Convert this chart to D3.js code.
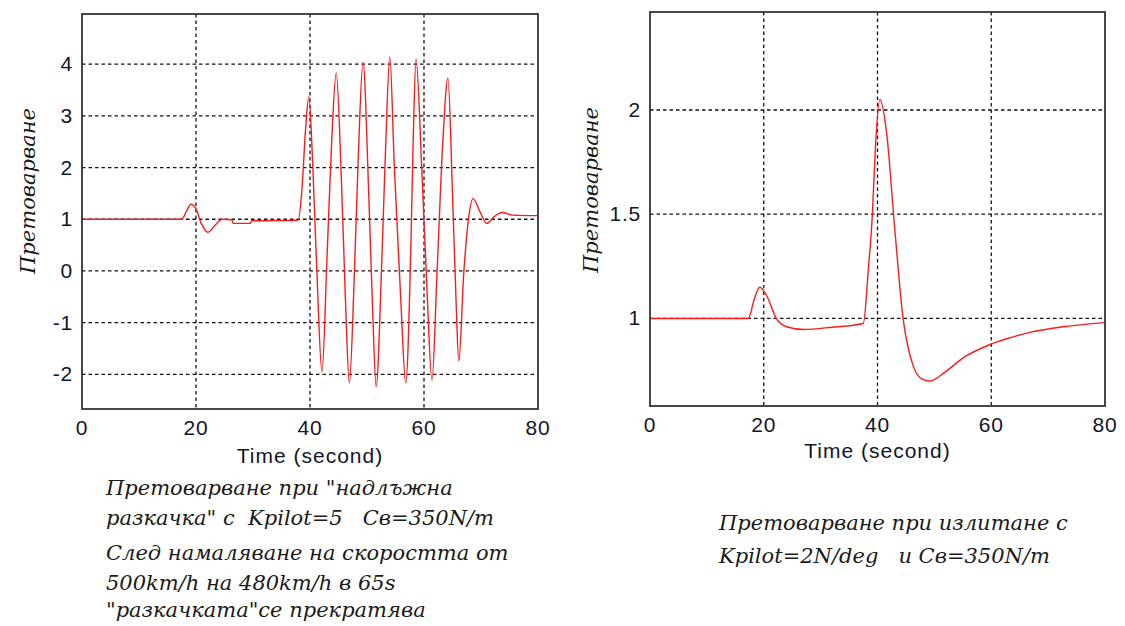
<!DOCTYPE html>
<html>
<head>
<meta charset="utf-8">
<script src="https://cdn.jsdelivr.net/npm/d3@7"></script>
<style>
  body { margin: 0; background: #fff; }
  svg { display: block; }
  .tick-label { font-family: "Liberation Sans", Arial, sans-serif; font-size: 21px; letter-spacing: 0.8px; fill: #14142a; }
  .axis-title { font-family: "Liberation Sans", Arial, sans-serif; font-size: 21px; letter-spacing: 1px; fill: #14142a; }
  .y-title { font-family: "DejaVu Serif", "Liberation Serif", serif; font-style: italic; font-size: 21px; fill: #1a1a1a; }
  .caption { font-family: "DejaVu Serif", "Liberation Serif", serif; font-style: italic; font-size: 21px; fill: #1a1a1a; }
</style>
</head>
<body>
<svg id="chart" width="1125" height="626"></svg>
<script>
// left panel: "надлъжна разкачка"
const leftTime = [0, 17.5, 18.3, 19.1, 20.0, 21.0, 22.1, 23.3, 24.6, 26.3, 26.5, 29.5, 29.8, 37.9,
  38.6, 39.2, 39.8, 40.5, 41.2, 42.1, 43.0, 43.8, 44.6, 45.5, 46.2, 46.9, 47.8, 48.5, 49.3,
  50.3, 51.0, 51.6, 52.6, 53.3, 54.0, 54.8, 55.9, 56.8, 57.7, 58.1, 58.6, 59.6, 60.5, 61.4,
  62.3, 63.3, 64.2, 65.0, 65.6, 66.1, 67.0, 67.8, 68.6, 69.8, 71.0, 72.3, 73.7, 75.5, 80];
const leftLoad = [1, 1, 1.15, 1.29, 1.2, 0.9, 0.75, 0.88, 1.0, 0.99, 0.92, 0.92, 0.97, 0.98,
  1.6, 2.7, 3.37, 2.0, 0.0, -1.95, 0.3, 2.5, 3.83, 1.8, -0.5, -2.17, 0.0, 2.3, 4.04,
  1.5, -0.8, -2.24, 0.2, 2.5, 4.14, 2.0, -0.5, -2.17, 0.5, 2.5, 4.1, 2.0, -0.3, -2.11,
  0.0, 2.5, 3.73, 1.5, -0.5, -1.74, 0.0, 1.0, 1.4, 1.15, 0.92, 1.05, 1.13, 1.08, 1.07];

// right panel: излитане
const rightTime = [0, 17.3, 18.3, 19.3, 20.5, 22.2, 24.0, 27.0, 32.0, 37.5, 38.4, 39.1, 39.6, 40.4,
  41.6, 43.0, 44.5, 46.3, 47.8, 49.2, 52.0, 55.0, 59.8, 63.0, 66.8, 72.6, 80];
const rightLoad = [1, 1, 1.09, 1.15, 1.11, 1.0, 0.96, 0.947, 0.958, 0.976, 1.24, 1.5, 1.8, 2.05,
  1.89, 1.44, 1.0, 0.77, 0.71, 0.70, 0.745, 0.81, 0.875, 0.905, 0.933, 0.96, 0.98];

const xTicks = [0, 20, 40, 60, 80];
const leftYTicks = [-2, -1, 0, 1, 2, 3, 4];
const rightYTicks = [1, 1.5, 2];
const leftYDomain = [-2.67, 4.97];
const rightYDomain = [0.58, 2.47];

const yTitle = 'Претоварване';
const xTitle = 'Time (second)';
const leftCaption = [
  'Претоварване при "надлъжна',
  'разкачка" с  Kpilot=5   Св=350N/m',
  'След намаляване на скоростта от',
  '500km/h на 480km/h в 65s',
  '"разкачката"се прекратява'
];
const leftCaptionY = [495, 525, 560, 590, 617];
const rightCaption = [
  'Претоварване при излитане с',
  'Kpilot=2N/deg   и Св=350N/m'
];
const rightCaptionY = [530, 563];

const svg = d3.select('#chart');

function drawPanel(opts) {
  const x = d3.scaleLinear().domain([0, 80]).range([opts.left, opts.right]);
  const y = d3.scaleLinear().domain(opts.yDomain).range([opts.bottom, opts.top]);
  const g = svg.append('g');

  // dashed grid
  g.selectAll('.vgrid')
    .data(xTicks.slice(1, -1))
    .enter()
    .append('line')
    .attr('x1', d => x(d)).attr('x2', d => x(d))
    .attr('y1', opts.top).attr('y2', opts.bottom)
    .attr('stroke', '#111').attr('stroke-width', 1.3)
    .attr('stroke-dasharray', '3.5,3');

  g.selectAll('.hgrid')
    .data(opts.yTicks)
    .enter()
    .append('line')
    .attr('x1', opts.left).attr('x2', opts.right)
    .attr('y1', d => y(d)).attr('y2', d => y(d))
    .attr('stroke', '#111').attr('stroke-width', 1.3)
    .attr('stroke-dasharray', '3.5,3');

  const line = d3.line()
    .x(d => x(d[0]))
    .y(d => y(d[1]))
    .curve(d3.curveMonotoneX);

  g.append('path')
    .datum(d3.zip(opts.time, opts.load))
    .attr('fill', 'none')
    .attr('stroke', '#ff1a1a')
    .attr('stroke-width', 1.4)
    .attr('d', line);

  // frame
  g.append('rect')
    .attr('x', opts.left).attr('y', opts.top)
    .attr('width', opts.right - opts.left)
    .attr('height', opts.bottom - opts.top)
    .attr('fill', 'none')
    .attr('stroke', '#333')
    .attr('stroke-width', 1.8);

  g.selectAll('.xlab')
    .data(xTicks)
    .enter()
    .append('text')
    .attr('class', 'tick-label')
    .attr('x', d => x(d))
    .attr('y', opts.xLabelY)
    .attr('text-anchor', 'middle')
    .text(d => d);

  g.selectAll('.ylab')
    .data(opts.yTicks)
    .enter()
    .append('text')
    .attr('class', 'tick-label')
    .attr('x', opts.left - 9)
    .attr('y', d => y(d) + 7)
    .attr('text-anchor', 'end')
    .text(d => d);

  g.append('text')
    .attr('class', 'axis-title')
    .attr('x', (opts.left + opts.right) / 2)
    .attr('y', opts.xTitleY)
    .attr('text-anchor', 'middle')
    .text(xTitle);

  g.append('text')
    .attr('class', 'y-title')
    .attr('transform', 'translate(' + opts.yTitleX + ',' + opts.yTitleCY + ') rotate(-90)')
    .attr('text-anchor', 'middle')
    .text(yTitle);

  g.selectAll('.caption')
    .data(opts.caption)
    .enter()
    .append('text')
    .attr('class', 'caption')
    .attr('x', opts.captionX)
    .attr('y', (d, i) => opts.captionY[i])
    .attr('xml:space', 'preserve')
    .style('white-space', 'pre')
    .text(d => d);
}

drawPanel({
  left: 82, right: 538, top: 14, bottom: 409,
  yDomain: leftYDomain, yTicks: leftYTicks,
  time: leftTime, load: leftLoad,
  xLabelY: 435, xTitleY: 463,
  yTitleX: 35, yTitleCY: 191,
  caption: leftCaption, captionX: 106, captionY: leftCaptionY
});

drawPanel({
  left: 650, right: 1105, top: 12, bottom: 406,
  yDomain: rightYDomain, yTicks: rightYTicks,
  time: rightTime, load: rightLoad,
  xLabelY: 432, xTitleY: 458,
  yTitleX: 598, yTitleCY: 190,
  caption: rightCaption, captionX: 719, captionY: rightCaptionY
});
</script>
</body>
</html>
